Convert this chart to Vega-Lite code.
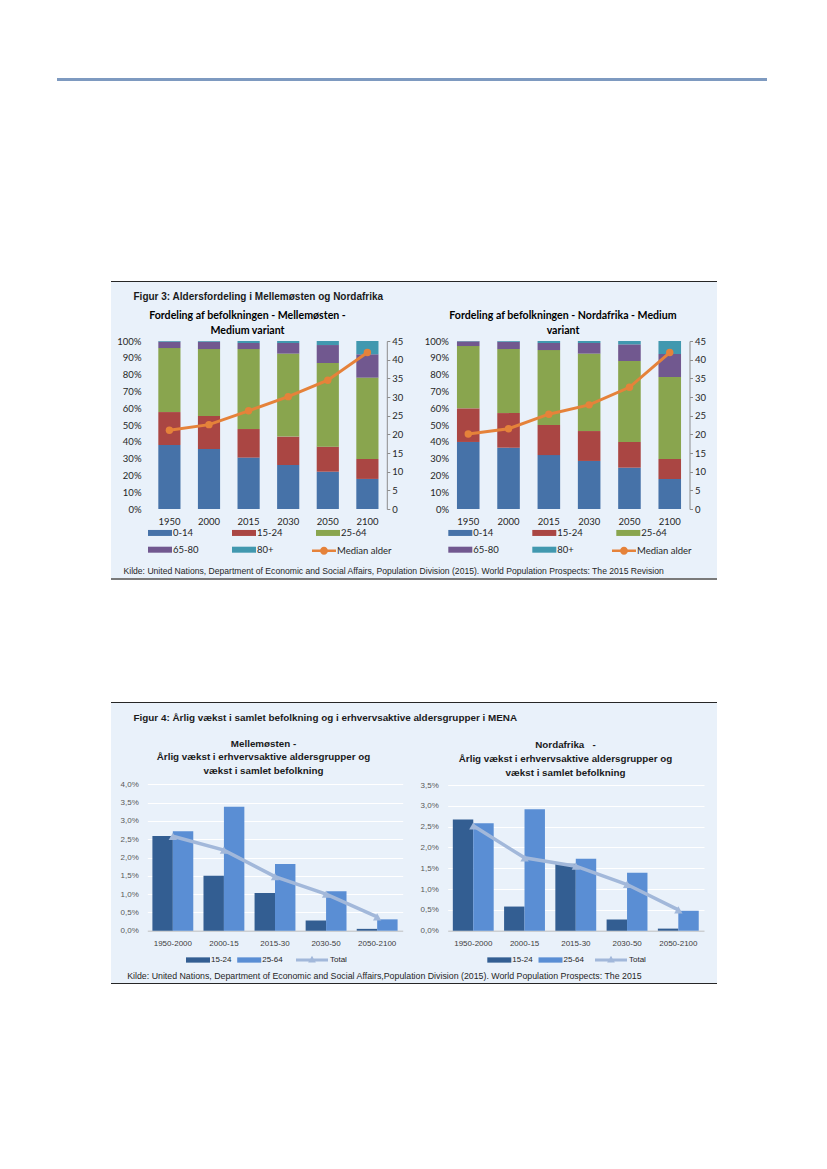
{
  "$schema": "https://vega.github.io/schema/vega-lite/v6.json",
  "background": "white",
  "padding": {"left": 57, "top": 78, "right": 5, "bottom": 5},
  "config": {"concat": {"spacing": 0}, "view": {"stroke": null}},
  "resolve": {"scale": {"color": "independent"}, "legend": {"color": "independent"}},
  "spacing": 0,
  "datasets": {
    "f3": [
      {"region": "ME", "year": 1950, "group": "0-14", "value": 38.1},
      {"region": "ME", "year": 1950, "group": "15-24", "value": 19.6},
      {"region": "ME", "year": 1950, "group": "25-64", "value": 38.1},
      {"region": "ME", "year": 1950, "group": "65-80", "value": 3.8},
      {"region": "ME", "year": 1950, "group": "80+", "value": 0.4},
      {"region": "ME", "year": 2000, "group": "0-14", "value": 35.7},
      {"region": "ME", "year": 2000, "group": "15-24", "value": 19.7},
      {"region": "ME", "year": 2000, "group": "25-64", "value": 39.8},
      {"region": "ME", "year": 2000, "group": "65-80", "value": 4.4},
      {"region": "ME", "year": 2000, "group": "80+", "value": 0.4},
      {"region": "ME", "year": 2015, "group": "0-14", "value": 30.6},
      {"region": "ME", "year": 2015, "group": "15-24", "value": 17.0},
      {"region": "ME", "year": 2015, "group": "25-64", "value": 47.6},
      {"region": "ME", "year": 2015, "group": "65-80", "value": 3.6},
      {"region": "ME", "year": 2015, "group": "80+", "value": 1.2},
      {"region": "ME", "year": 2030, "group": "0-14", "value": 26.2},
      {"region": "ME", "year": 2030, "group": "15-24", "value": 16.9},
      {"region": "ME", "year": 2030, "group": "25-64", "value": 49.4},
      {"region": "ME", "year": 2030, "group": "65-80", "value": 6.3},
      {"region": "ME", "year": 2030, "group": "80+", "value": 1.2},
      {"region": "ME", "year": 2050, "group": "0-14", "value": 22.2},
      {"region": "ME", "year": 2050, "group": "15-24", "value": 14.9},
      {"region": "ME", "year": 2050, "group": "25-64", "value": 49.8},
      {"region": "ME", "year": 2050, "group": "65-80", "value": 10.7},
      {"region": "ME", "year": 2050, "group": "80+", "value": 2.4},
      {"region": "ME", "year": 2100, "group": "0-14", "value": 17.9},
      {"region": "ME", "year": 2100, "group": "15-24", "value": 11.9},
      {"region": "ME", "year": 2100, "group": "25-64", "value": 48.4},
      {"region": "ME", "year": 2100, "group": "65-80", "value": 13.9},
      {"region": "ME", "year": 2100, "group": "80+", "value": 7.9},
      {"region": "NA", "year": 1950, "group": "0-14", "value": 39.9},
      {"region": "NA", "year": 1950, "group": "15-24", "value": 20.0},
      {"region": "NA", "year": 1950, "group": "25-64", "value": 37.1},
      {"region": "NA", "year": 1950, "group": "65-80", "value": 2.8},
      {"region": "NA", "year": 1950, "group": "80+", "value": 0.2},
      {"region": "NA", "year": 2000, "group": "0-14", "value": 36.5},
      {"region": "NA", "year": 2000, "group": "15-24", "value": 20.6},
      {"region": "NA", "year": 2000, "group": "25-64", "value": 38.1},
      {"region": "NA", "year": 2000, "group": "65-80", "value": 4.4},
      {"region": "NA", "year": 2000, "group": "80+", "value": 0.4},
      {"region": "NA", "year": 2015, "group": "0-14", "value": 32.1},
      {"region": "NA", "year": 2015, "group": "15-24", "value": 17.9},
      {"region": "NA", "year": 2015, "group": "25-64", "value": 44.6},
      {"region": "NA", "year": 2015, "group": "65-80", "value": 4.2},
      {"region": "NA", "year": 2015, "group": "80+", "value": 1.2},
      {"region": "NA", "year": 2030, "group": "0-14", "value": 28.6},
      {"region": "NA", "year": 2030, "group": "15-24", "value": 17.8},
      {"region": "NA", "year": 2030, "group": "25-64", "value": 46.1},
      {"region": "NA", "year": 2030, "group": "65-80", "value": 6.3},
      {"region": "NA", "year": 2030, "group": "80+", "value": 1.2},
      {"region": "NA", "year": 2050, "group": "0-14", "value": 24.6},
      {"region": "NA", "year": 2050, "group": "15-24", "value": 15.3},
      {"region": "NA", "year": 2050, "group": "25-64", "value": 48.2},
      {"region": "NA", "year": 2050, "group": "65-80", "value": 9.9},
      {"region": "NA", "year": 2050, "group": "80+", "value": 2.0},
      {"region": "NA", "year": 2100, "group": "0-14", "value": 17.9},
      {"region": "NA", "year": 2100, "group": "15-24", "value": 11.9},
      {"region": "NA", "year": 2100, "group": "25-64", "value": 48.8},
      {"region": "NA", "year": 2100, "group": "65-80", "value": 13.7},
      {"region": "NA", "year": 2100, "group": "80+", "value": 7.7}
    ],
    "f3m": [
      {"region": "ME", "year": 1950, "median": 21.1},
      {"region": "ME", "year": 2000, "median": 22.6},
      {"region": "ME", "year": 2015, "median": 26.3},
      {"region": "ME", "year": 2030, "median": 30.1},
      {"region": "ME", "year": 2050, "median": 34.5},
      {"region": "ME", "year": 2100, "median": 41.9},
      {"region": "NA", "year": 1950, "median": 20.1},
      {"region": "NA", "year": 2000, "median": 21.5},
      {"region": "NA", "year": 2015, "median": 25.4},
      {"region": "NA", "year": 2030, "median": 27.9},
      {"region": "NA", "year": 2050, "median": 32.6},
      {"region": "NA", "year": 2100, "median": 41.9}
    ],
    "f4": [
      {"region": "ME", "period": "1950-2000", "group": "15-24", "value": 2.59},
      {"region": "ME", "period": "1950-2000", "group": "25-64", "value": 2.72},
      {"region": "ME", "period": "2000-15", "group": "15-24", "value": 1.50},
      {"region": "ME", "period": "2000-15", "group": "25-64", "value": 3.39},
      {"region": "ME", "period": "2015-30", "group": "15-24", "value": 1.03},
      {"region": "ME", "period": "2015-30", "group": "25-64", "value": 1.82},
      {"region": "ME", "period": "2030-50", "group": "15-24", "value": 0.28},
      {"region": "ME", "period": "2030-50", "group": "25-64", "value": 1.08},
      {"region": "ME", "period": "2050-2100", "group": "15-24", "value": 0.05},
      {"region": "ME", "period": "2050-2100", "group": "25-64", "value": 0.31},
      {"region": "NA", "period": "1950-2000", "group": "15-24", "value": 2.67},
      {"region": "NA", "period": "1950-2000", "group": "25-64", "value": 2.58},
      {"region": "NA", "period": "2000-15", "group": "15-24", "value": 0.58},
      {"region": "NA", "period": "2000-15", "group": "25-64", "value": 2.92},
      {"region": "NA", "period": "2015-30", "group": "15-24", "value": 1.61},
      {"region": "NA", "period": "2015-30", "group": "25-64", "value": 1.73},
      {"region": "NA", "period": "2030-50", "group": "15-24", "value": 0.27},
      {"region": "NA", "period": "2030-50", "group": "25-64", "value": 1.39},
      {"region": "NA", "period": "2050-2100", "group": "15-24", "value": 0.05},
      {"region": "NA", "period": "2050-2100", "group": "25-64", "value": 0.48}
    ],
    "f4t": [
      {"region": "ME", "period": "1950-2000", "total": 2.58},
      {"region": "ME", "period": "2000-15", "total": 2.2},
      {"region": "ME", "period": "2015-30", "total": 1.48},
      {"region": "ME", "period": "2030-50", "total": 1.0},
      {"region": "ME", "period": "2050-2100", "total": 0.38},
      {"region": "NA", "period": "1950-2000", "total": 2.52},
      {"region": "NA", "period": "2000-15", "total": 1.75},
      {"region": "NA", "period": "2015-30", "total": 1.55},
      {"region": "NA", "period": "2030-50", "total": 1.11},
      {"region": "NA", "period": "2050-2100", "total": 0.5}
    ]
  },
  "vconcat": [
    {"width": 710, "height": 3, "view": {"fill": "#7E9AC0", "stroke": null}, "data": {"values": []}, "mark": "rect", "encoding": {}},
    {"width": 1, "height": 200, "view": {"fill": null, "stroke": null}, "data": {"values": []}, "mark": "rect", "encoding": {}},
    {
      "spacing": 0,
      "resolve": {"scale": {"color": "independent"}, "legend": {"color": "independent"}},
      "hconcat": [
        {"width": 54, "height": 1, "view": {"fill": null, "stroke": null}, "data": {"values": []}, "mark": "rect", "encoding": {}},
        {
          "spacing": 0,
          "resolve": {"scale": {"color": "independent"}, "legend": {"color": "independent"}},
          "vconcat": [
            {"width": 606, "height": 1, "view": {"fill": "#262626", "stroke": null}, "data": {"values": []}, "mark": "rect", "encoding": {}},
            {
              "bounds": "flush",
              "spacing": 0,
              "resolve": {"scale": {"color": "independent"}, "legend": {"color": "independent"}},
              "hconcat": [
                {
                  "width": 303, "height": 296,
                  "view": {"fill": "#E9F1FA", "stroke": null},
                  "layer": [
                    {
                      "data": {"name": "f3"},
                      "transform": [{"filter": "datum.region === 'ME'"}],
                      "mark": {"type": "bar"},
                      "encoding": {
                        "x": {"field": "year", "type": "ordinal",
                          "scale": {"range": [39, 275.8], "paddingInner": 0.44, "paddingOuter": 0.21},
                          "axis": {"orient": "bottom", "offset": -69, "domain": false, "ticks": false, "labelPadding": 7, "labelAngle": 0, "labelFont": "Lato", "labelFontSize": 9.5, "labelColor": "#262626", "title": null}},
                        "y": {"field": "value", "type": "quantitative", "stack": "zero",
                          "scale": {"domain": [0, 100], "range": [227, 59], "nice": false},
                          "axis": {"orient": "left", "offset": -39, "values": [0, 10, 20, 30, 40, 50, 60, 70, 80, 90, 100], "labelExpr": "datum.value + '%'", "labelOverlap": false, "domain": false, "ticks": false, "grid": false, "labelPadding": 9, "labelFont": "Lato", "labelFontSize": 9.5, "labelColor": "#262626",
                            "title": "Figur 3: Aldersfordeling i Mellemøsten og Nordafrika",
                            "titleX": -17, "titleY": 17, "titleAngle": 0, "titleAlign": "left", "titleBaseline": "alphabetic", "titleFont": "Liberation Sans", "titleFontSize": 10, "titleFontWeight": "bold", "titleColor": "#1a1a1a"}},
                        "color": {"field": "group", "type": "nominal",
                          "scale": {"domain": ["0-14", "15-24", "25-64", "65-80", "80+"], "range": ["#4672A8", "#AA4643", "#89A54E", "#71588F", "#4198AF"]},
                          "legend": {"orient": "none", "direction": "horizontal", "legendX": 37, "legendY": 238.7, "title": null, "columns": 3, "columnPadding": 33, "rowPadding": -6, "symbolType": "M-1,-0.25H1V0.25H-1Z", "symbolSize": 576, "symbolStrokeWidth": 0, "labelOffset": 1, "labelFont": "Lato", "labelFontSize": 9.5, "labelColor": "#262626"}},
                        "order": {"field": "group", "sort": "ascending"}
                      }
                    },
                    {
                      "data": {"name": "f3m"},
                      "transform": [{"filter": "datum.region === 'ME'"}],
                      "mark": {"type": "line", "color": "#E5823A", "strokeWidth": 3},
                      "encoding": {
                        "x": {"field": "year", "type": "ordinal"},
                        "y": {"field": "median", "type": "quantitative",
                          "scale": {"domain": [0, 45], "range": [227, 59], "nice": false},
                          "axis": {"orient": "right", "offset": -27.2, "values": [0, 5, 10, 15, 20, 25, 30, 35, 40, 45], "labelOverlap": false, "domain": true, "domainColor": "#8C8C8C", "ticks": true, "tickColor": "#8C8C8C", "tickSize": 3, "labelPadding": 2, "grid": false, "labelFont": "Lato", "labelFontSize": 9.5, "labelColor": "#262626",
                            "title": ["Fordeling af befolkningen - Mellemøsten -", "Medium variant"],
                            "titleX": -139.8, "titleY": 36.5, "titleAngle": 0, "titleAlign": "center", "titleBaseline": "alphabetic", "titleFont": "Lato", "titleFontSize": 10.6, "titleFontWeight": "bold", "titleLineHeight": 15, "titleColor": "#000000"}}
                      }
                    },
                    {
                      "data": {"name": "f3m"},
                      "transform": [{"filter": "datum.region === 'ME'"}],
                      "mark": {"type": "point", "filled": true, "size": 55, "shape": "circle", "opacity": 1},
                      "encoding": {
                        "x": {"field": "year", "type": "ordinal"},
                        "y": {"field": "median", "type": "quantitative", "scale": {"domain": [0, 45], "range": [227, 59], "nice": false}, "axis": null},
                        "color": {"datum": "Median alder", "type": "nominal", "scale": {"domain": ["Median alder"], "range": ["#E5823A"]},
                          "legend": {"orient": "none", "legendX": 201, "legendY": 256.7, "title": null, "symbolType": "M-1,-0.11H1V0.11H-1Z M0.33,0A0.33,0.33 0 1 1 -0.33,0A0.33,0.33 0 1 1 0.33,0Z", "symbolSize": 576, "symbolStrokeWidth": 0, "symbolOpacity": 1, "labelOffset": 1, "labelFont": "Lato", "labelFontSize": 9.5, "labelColor": "#262626"}}
                      }
                    }
                  ],
                  "resolve": {"scale": {"y": "independent", "color": "independent"}}
                },
                {
                  "width": 303, "height": 296,
                  "view": {"fill": "#E9F1FA", "stroke": null},
                  "layer": [
                    {
                      "data": {"name": "f3"},
                      "transform": [{"filter": "datum.region === 'NA'"}],
                      "mark": {"type": "bar"},
                      "encoding": {
                        "x": {"field": "year", "type": "ordinal",
                          "scale": {"range": [34.5, 275.5], "paddingInner": 0.44, "paddingOuter": 0.21},
                          "axis": {"orient": "bottom", "offset": -69, "domain": false, "ticks": false, "labelPadding": 7, "labelAngle": 0, "labelFont": "Lato", "labelFontSize": 9.5, "labelColor": "#262626",
                            "title": "Kilde: United Nations, Department of Economic and Social Affairs, Population Division (2015). World Population Prospects: The 2015 Revision",
                            "titleX": -291, "titleY": 64, "titleAlign": "left", "titleAngle": 0, "titleBaseline": "alphabetic", "titleFont": "Liberation Sans", "titleFontSize": 8.6, "titleFontWeight": "normal", "titleColor": "#262626"}},
                        "y": {"field": "value", "type": "quantitative", "stack": "zero",
                          "scale": {"domain": [0, 100], "range": [227, 59], "nice": false},
                          "axis": {"orient": "left", "offset": -43.5, "values": [0, 10, 20, 30, 40, 50, 60, 70, 80, 90, 100], "labelExpr": "datum.value + '%'", "labelOverlap": false, "domain": false, "ticks": false, "grid": false, "labelPadding": 9, "labelFont": "Lato", "labelFontSize": 9.5, "labelColor": "#262626",
                            "title": ["Fordeling af befolkningen - Nordafrika - Medium", "variant"],
                            "titleX": 105, "titleY": 36.5, "titleAngle": 0, "titleAlign": "center", "titleBaseline": "alphabetic", "titleFont": "Lato", "titleFontSize": 10.6, "titleFontWeight": "bold", "titleLineHeight": 15, "titleColor": "#000000"}},
                        "color": {"field": "group", "type": "nominal",
                          "scale": {"domain": ["0-14", "15-24", "25-64", "65-80", "80+"], "range": ["#4672A8", "#AA4643", "#89A54E", "#71588F", "#4198AF"]},
                          "legend": {"orient": "none", "direction": "horizontal", "legendX": 34.3, "legendY": 238.7, "title": null, "columns": 3, "columnPadding": 33, "rowPadding": -6, "symbolType": "M-1,-0.25H1V0.25H-1Z", "symbolSize": 576, "symbolStrokeWidth": 0, "labelOffset": 1, "labelFont": "Lato", "labelFontSize": 9.5, "labelColor": "#262626"}},
                        "order": {"field": "group", "sort": "ascending"}
                      }
                    },
                    {
                      "data": {"name": "f3m"},
                      "transform": [{"filter": "datum.region === 'NA'"}],
                      "mark": {"type": "line", "color": "#E5823A", "strokeWidth": 3},
                      "encoding": {
                        "x": {"field": "year", "type": "ordinal"},
                        "y": {"field": "median", "type": "quantitative",
                          "scale": {"domain": [0, 45], "range": [227, 59], "nice": false},
                          "axis": {"orient": "right", "offset": -27.5, "values": [0, 5, 10, 15, 20, 25, 30, 35, 40, 45], "labelOverlap": false, "domain": true, "domainColor": "#8C8C8C", "ticks": true, "tickColor": "#8C8C8C", "tickSize": 3, "labelPadding": 2, "grid": false, "labelFont": "Lato", "labelFontSize": 9.5, "labelColor": "#262626", "title": null}}
                      }
                    },
                    {
                      "data": {"name": "f3m"},
                      "transform": [{"filter": "datum.region === 'NA'"}],
                      "mark": {"type": "point", "filled": true, "size": 55, "shape": "circle", "opacity": 1},
                      "encoding": {
                        "x": {"field": "year", "type": "ordinal"},
                        "y": {"field": "median", "type": "quantitative", "scale": {"domain": [0, 45], "range": [227, 59], "nice": false}, "axis": null},
                        "color": {"datum": "Median alder", "type": "nominal", "scale": {"domain": ["Median alder"], "range": ["#E5823A"]},
                          "legend": {"orient": "none", "legendX": 198, "legendY": 256.7, "title": null, "symbolType": "M-1,-0.11H1V0.11H-1Z M0.33,0A0.33,0.33 0 1 1 -0.33,0A0.33,0.33 0 1 1 0.33,0Z", "symbolSize": 576, "symbolStrokeWidth": 0, "symbolOpacity": 1, "labelOffset": 1, "labelFont": "Lato", "labelFontSize": 9.5, "labelColor": "#262626"}}
                      }
                    }
                  ],
                  "resolve": {"scale": {"y": "independent", "color": "independent"}}
                }
              ]
            },
            {"width": 606, "height": 2, "view": {"fill": "#7A7A7A", "stroke": null}, "data": {"values": []}, "mark": "rect", "encoding": {}}
          ]
        }
      ]
    },
    {"width": 1, "height": 122, "view": {"fill": null, "stroke": null}, "data": {"values": []}, "mark": "rect", "encoding": {}},
    {
      "spacing": 0,
      "resolve": {"scale": {"color": "independent"}, "legend": {"color": "independent"}},
      "hconcat": [
        {"width": 54, "height": 1, "view": {"fill": null, "stroke": null}, "data": {"values": []}, "mark": "rect", "encoding": {}},
        {
          "spacing": 0,
          "resolve": {"scale": {"color": "independent"}, "legend": {"color": "independent"}},
          "vconcat": [
            {"width": 606, "height": 1, "view": {"fill": "#262626", "stroke": null}, "data": {"values": []}, "mark": "rect", "encoding": {}},
            {
              "bounds": "flush",
              "spacing": 0,
              "resolve": {"scale": {"color": "independent"}, "legend": {"color": "independent"}},
              "hconcat": [
                {
                  "width": 303, "height": 280,
                  "view": {"fill": "#E9F1FA", "stroke": null},
                  "layer": [
                    {
                      "data": {"name": "f4"},
                      "transform": [{"filter": "datum.region === 'ME'"}],
                      "mark": {"type": "bar"},
                      "encoding": {
                        "x": {"field": "period", "type": "nominal",
                          "scale": {"range": [36.3, 291.7], "paddingInner": 0.2, "paddingOuter": 0.1},
                          "axis": {"orient": "bottom", "offset": -52.3, "domain": true, "domainColor": "#BFBFBF", "domainWidth": 1, "ticks": false, "labelPadding": 9, "labelAngle": 0, "labelFont": "Liberation Sans", "labelFontSize": 8, "labelColor": "#404040", "title": null}},
                        "xOffset": {"field": "group", "type": "nominal", "scale": {"paddingInner": 0, "paddingOuter": 0}},
                        "y": {"field": "value", "type": "quantitative",
                          "scale": {"domain": [0, 4], "range": [227.7, 81.3], "nice": false},
                          "axis": {"orient": "left", "offset": -36.3, "values": [0, 0.5, 1, 1.5, 2, 2.5, 3, 3.5, 4], "labelExpr": "replace(format(datum.value, '.1f'), '.', ',') + '%'", "labelOverlap": false, "domain": false, "ticks": false, "grid": true, "gridColor": {"condition": {"test": "datum.value === 0", "value": "transparent"}, "value": "#FFFFFF"}, "gridWidth": 1, "labelPadding": 9, "labelFont": "Liberation Sans", "labelFontSize": 8, "labelColor": "#595959", "title": null}},
                        "color": {"field": "group", "type": "nominal",
                          "scale": {"domain": ["15-24", "25-64"], "range": ["#335E92", "#5A8ED4"]},
                          "legend": {"orient": "none", "direction": "horizontal", "legendX": 75, "legendY": 245, "title": null, "columns": 2, "columnPadding": 5.2, "symbolType": "M-1,-0.22H1V0.22H-1Z", "symbolSize": 576, "symbolStrokeWidth": 0, "labelOffset": 1, "labelFont": "Liberation Sans", "labelFontSize": 8, "labelColor": "#262626"}}
                      }
                    },
                    {
                      "data": {"name": "f4t"},
                      "transform": [{"filter": "datum.region === 'ME'"}],
                      "mark": {"type": "line", "color": "#A2B8DA", "strokeWidth": 3.5},
                      "encoding": {
                        "x": {"field": "period", "type": "nominal"},
                        "y": {"field": "total", "type": "quantitative",
                          "axis": {"orient": "right", "offset": 0, "domain": false, "ticks": false, "labels": false, "grid": false,
                            "title": ["Mellemøsten -", "Årlig vækst i erhvervsaktive aldersgrupper og", "vækst i samlet befolkning"],
                            "titleX": -151, "titleY": 43.2, "titleAngle": 0, "titleAlign": "center", "titleBaseline": "alphabetic", "titleFont": "Liberation Sans", "titleFontSize": 9.8, "titleFontWeight": "bold", "titleLineHeight": 13.7, "titleColor": "#1a1a1a"}}
                      }
                    },
                    {
                      "data": {"name": "f4t"},
                      "transform": [{"filter": "datum.region === 'ME'"}],
                      "mark": {"type": "point", "filled": true, "size": 70, "shape": "triangle-up", "opacity": 1},
                      "encoding": {
                        "x": {"field": "period", "type": "nominal"},
                        "y": {"field": "total", "type": "quantitative", "axis": null},
                        "color": {"datum": "Total", "type": "nominal", "scale": {"domain": ["Total"], "range": ["#A2B8DA"]},
                          "legend": {"orient": "none", "legendX": 185, "legendY": 241, "title": null, "symbolType": "M-1,-0.09H1V0.09H-1Z M0,-0.26L0.24,0.16H-0.24Z", "symbolSize": 1024, "symbolStrokeWidth": 0, "symbolOpacity": 1, "labelOffset": 2, "labelFont": "Liberation Sans", "labelFontSize": 8, "labelColor": "#262626"}}
                      }
                    }
                  ],
                  "resolve": {"axis": {"y": "independent"}, "scale": {"color": "independent"}}
                },
                {
                  "width": 303, "height": 280,
                  "view": {"fill": "#E9F1FA", "stroke": null},
                  "layer": [
                    {
                      "data": {"name": "f4"},
                      "transform": [{"filter": "datum.region === 'NA'"}],
                      "mark": {"type": "bar"},
                      "encoding": {
                        "x": {"field": "period", "type": "nominal",
                          "scale": {"range": [33.7, 290], "paddingInner": 0.2, "paddingOuter": 0.1},
                          "axis": {"orient": "bottom", "offset": -52.3, "domain": true, "domainColor": "#BFBFBF", "domainWidth": 1, "ticks": false, "labelPadding": 9, "labelAngle": 0, "labelFont": "Liberation Sans", "labelFontSize": 8, "labelColor": "#404040",
                            "title": "Kilde: United Nations, Department  of Economic and Social Affairs,Population  Division (2015).  World  Population  Prospects: The 2015",
                            "titleX": -287.3, "titleY": 47.6, "titleAlign": "left", "titleAngle": 0, "titleBaseline": "alphabetic", "titleFont": "Liberation Sans", "titleFontSize": 8.8, "titleFontWeight": "normal", "titleColor": "#262626"}},
                        "xOffset": {"field": "group", "type": "nominal", "scale": {"paddingInner": 0, "paddingOuter": 0}},
                        "y": {"field": "value", "type": "quantitative",
                          "scale": {"domain": [0, 3.5], "range": [227.7, 82], "nice": false},
                          "axis": {"orient": "left", "offset": -33.7, "values": [0, 0.5, 1, 1.5, 2, 2.5, 3, 3.5], "labelExpr": "replace(format(datum.value, '.1f'), '.', ',') + '%'", "labelOverlap": false, "domain": false, "ticks": false, "grid": true, "gridColor": {"condition": {"test": "datum.value === 0", "value": "transparent"}, "value": "#FFFFFF"}, "gridWidth": 1, "labelPadding": 9.4, "labelFont": "Liberation Sans", "labelFontSize": 8, "labelColor": "#595959",
                            "title": ["Nordafrika\u00a0\u00a0 -", "Årlig vækst i erhvervsaktive aldersgrupper og", "vækst i samlet befolkning"],
                            "titleX": 117.3, "titleY": 44.8, "titleAngle": 0, "titleAlign": "center", "titleBaseline": "alphabetic", "titleFont": "Liberation Sans", "titleFontSize": 9.8, "titleFontWeight": "bold", "titleLineHeight": 13.7, "titleColor": "#1a1a1a"}},
                        "color": {"field": "group", "type": "nominal",
                          "scale": {"domain": ["15-24", "25-64"], "range": ["#335E92", "#5A8ED4"]},
                          "legend": {"orient": "none", "direction": "horizontal", "legendX": 73.3, "legendY": 245, "title": null, "columns": 2, "columnPadding": 5.2, "symbolType": "M-1,-0.22H1V0.22H-1Z", "symbolSize": 576, "symbolStrokeWidth": 0, "labelOffset": 1, "labelFont": "Liberation Sans", "labelFontSize": 8, "labelColor": "#262626"}}
                      }
                    },
                    {
                      "data": {"name": "f4t"},
                      "transform": [{"filter": "datum.region === 'NA'"}],
                      "mark": {"type": "line", "color": "#A2B8DA", "strokeWidth": 3.5},
                      "encoding": {
                        "x": {"field": "period", "type": "nominal"},
                        "y": {"field": "total", "type": "quantitative",
                          "axis": {"orient": "right", "offset": 0, "domain": false, "ticks": false, "labels": false, "grid": false,
                            "title": "Figur 4: Årlig vækst i samlet befolkning og i erhvervsaktive aldersgrupper i MENA",
                            "titleX": -584, "titleY": 17, "titleAngle": 0, "titleAlign": "left", "titleBaseline": "alphabetic", "titleFont": "Liberation Sans", "titleFontSize": 9.9, "titleFontWeight": "bold", "titleColor": "#1a1a1a"}}
                      }
                    },
                    {
                      "data": {"name": "f4t"},
                      "transform": [{"filter": "datum.region === 'NA'"}],
                      "mark": {"type": "point", "filled": true, "size": 70, "shape": "triangle-up", "opacity": 1},
                      "encoding": {
                        "x": {"field": "period", "type": "nominal"},
                        "y": {"field": "total", "type": "quantitative", "axis": null},
                        "color": {"datum": "Total", "type": "nominal", "scale": {"domain": ["Total"], "range": ["#A2B8DA"]},
                          "legend": {"orient": "none", "legendX": 181, "legendY": 241, "title": null, "symbolType": "M-1,-0.09H1V0.09H-1Z M0,-0.26L0.24,0.16H-0.24Z", "symbolSize": 1024, "symbolStrokeWidth": 0, "symbolOpacity": 1, "labelOffset": 2, "labelFont": "Liberation Sans", "labelFontSize": 8, "labelColor": "#262626"}}
                      }
                    }
                  ],
                  "resolve": {"axis": {"y": "independent"}, "scale": {"color": "independent"}}
                }
              ]
            },
            {"width": 606, "height": 1, "view": {"fill": "#262626", "stroke": null}, "data": {"values": []}, "mark": "rect", "encoding": {}}
          ]
        }
      ]
    }
  ]
}
